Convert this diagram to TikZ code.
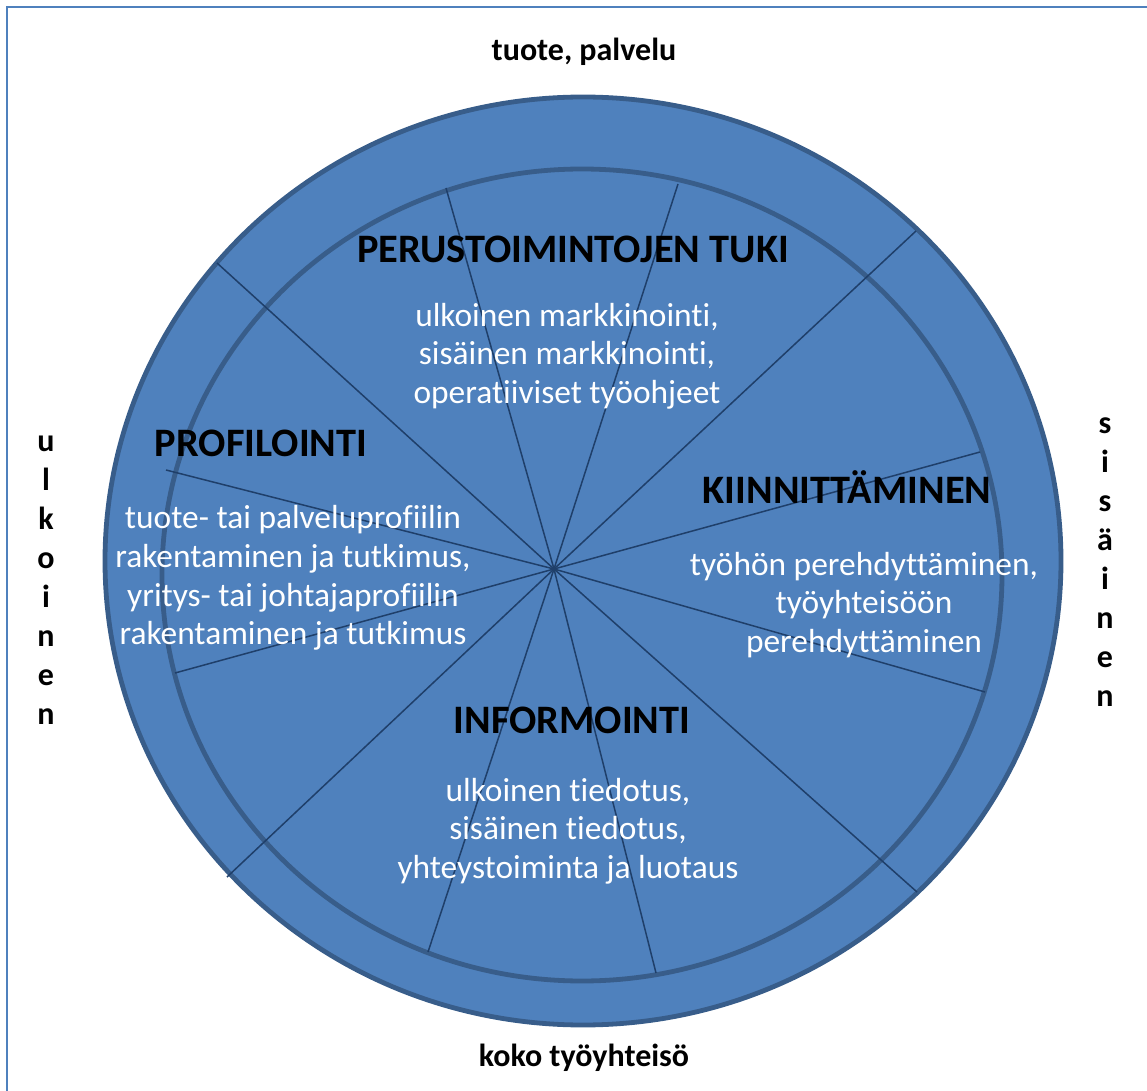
\documentclass[tikz,border=0pt]{standalone}
\usepackage{fontspec}
\setmainfont[Ligatures=NoCommon]{Carlito}
\definecolor{discfill}{HTML}{4F81BD}
\definecolor{discedge}{HTML}{385D8A}
\definecolor{spoke}{HTML}{1F3F6A}
\definecolor{framecol}{HTML}{4F81BD}
\begin{document}
\begin{tikzpicture}[x=0.5pt,y=-0.5pt,
  ring/.style={draw=discedge,line width=2.4pt,fill=discfill},
  spokeline/.style={draw=spoke,line width=0.75pt},
  head/.style={text=black,font=\fontsize{20.2}{24}\selectfont\bfseries,inner sep=0pt},
  body/.style={text=white,align=center,font=\fontsize{16.7}{19.3}\selectfont,inner sep=0pt},
  side/.style={text=black,font=\fontsize{16}{19.5}\selectfont\bfseries,align=center,inner sep=0pt}]
  \useasboundingbox (0,0) rectangle (1147,1091);
  % page frame, open to the right and bottom
  \begin{scope}
    \clip (0,0) rectangle (1147,1091);
    \draw[framecol,line width=1.4pt] (7,1200) -- (7,7) -- (1200,7);
  \end{scope}
  % outer and inner discs
  \path[ring] (583,561) ellipse [x radius=239pt, y radius=232pt];
  \path[ring] (582,575) ellipse [x radius=210pt, y radius=203pt];
  % hub and spoke end points
  \coordinate (hub) at (554,569);
  \coordinate (a1) at (446,188);  \coordinate (a2) at (656,973);
  \coordinate (b1) at (678,184);  \coordinate (b2) at (428,952);
  \coordinate (c1) at (916,231);  \coordinate (c2) at (227,877);
  \coordinate (d1) at (980,452);  \coordinate (d2) at (175,673);
  \coordinate (e1) at (985,692);  \coordinate (e2) at (166,470);
  \coordinate (f1) at (917,892);  \coordinate (f2) at (217,263);
  \foreach \p in {a,b,c,d,e,f}{
    \draw[spokeline] (\p1) -- (hub) -- (\p2);
  }
  % sector headings and contents
  \node[head] (tuki) at (573,249) {PERUSTOIMINTOJEN TUKI};
  \node[body] (tukitxt) at (567,356) {ulkoinen markkinointi,\\sisäinen markkinointi,\\operatiiviset työohjeet};
  \node[head] (prof) at (261,443) {PROFILOINTI};
  \node[body] (proftxt) at (293,578) {tuote- tai palveluprofiilin\\rakentaminen ja tutkimus,\\yritys- tai johtajaprofiilin\\rakentaminen ja tutkimus};
  \node[head] (kiin) at (847,487) {KIINNITTÄMINEN};
  \node[body] (kiintxt) at (864,605) {työhön perehdyttäminen,\\työyhteisöön\\perehdyttäminen};
  \node[head] (info) at (572,720) {INFORMOINTI};
  \node[body] (infotxt) at (568,831) {ulkoinen tiedotus,\\sisäinen tiedotus,\\yhteystoiminta ja luotaus};
  % axis labels around the disc
  \node[side] (top) at (584,52) {tuote, palvelu};
  \node[side] (bottom) at (584,1058) {koko työyhteisö};
  \node[side] (left) at (46,580) {u\\l\\k\\o\\i\\n\\e\\n};
  \node[side] (right) at (1105,562) {s\\i\\s\\ä\\i\\n\\e\\n};
\end{tikzpicture}
\end{document}
